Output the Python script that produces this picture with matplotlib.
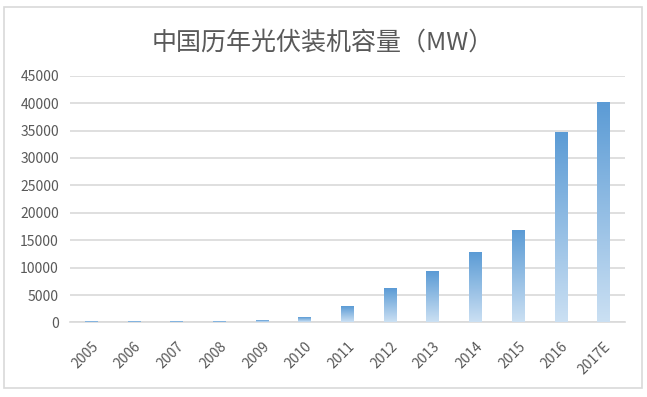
import numpy as np
import matplotlib
matplotlib.use("Agg")
import matplotlib.pyplot as plt
from matplotlib.colors import LinearSegmentedColormap
from matplotlib.patches import Rectangle

# ── data ──────────────────────────────────────────────────────────
years = ["2005", "2006", "2007", "2008", "2009", "2010", "2011",
         "2012", "2013", "2014", "2015", "2016", "2017E"]
capacity_mw = [5, 5, 10, 20, 300, 750, 2800,
               6100, 9150, 12700, 16600, 34550, 40000]
y_ticks = [0, 5000, 10000, 15000, 20000, 25000, 30000, 35000, 40000, 45000]
title = "中国历年光伏装机容量（MW）"

plt.rcParams["font.family"] = ["Noto Sans CJK SC", "DejaVu Sans"]
text_grey = "#595959"
grid_grey = "#d9d9d9"

fig = plt.figure(figsize=(6.47, 3.97), dpi=100)
ax = fig.add_axes([0.1082, 0.1877, 0.8578, 0.6216])

# outer chart frame
fig.patches.append(Rectangle((0.0065, 0.022), 0.986, 0.96, transform=fig.transFigure,
                             fill=False, edgecolor=grid_grey, lw=1.2))

x = np.arange(len(years))
bars = ax.bar(x, capacity_mw, width=0.3, color="none", edgecolor="none", zorder=3)

# vertical gradient fill, dark at top -> light at bottom
cmap = LinearSegmentedColormap.from_list("blue_grad", ["#cbe0f3", "#5b9bd5"])
grad = np.linspace(0, 1, 256).reshape(-1, 1)
for b in bars:
    x0, w, h = b.get_x(), b.get_width(), b.get_height()
    ax.imshow(grad, cmap=cmap, origin="lower", aspect="auto",
              extent=[x0, x0 + w, 0, h], zorder=3)

ax.set_xlim(-0.5, len(years) - 0.5)
ax.set_ylim(0, 45000)
ax.set_yticks(y_ticks)
ax.set_yticklabels([str(v) for v in y_ticks])
ax.set_xticks(x)
ax.set_xticklabels(years, rotation=45, ha="right", va="top", rotation_mode="anchor")

ax.grid(True, axis="y", color=grid_grey, lw=1.2, zorder=0)
ax.set_axisbelow(True)
for s in ["top", "right", "left"]:
    ax.spines[s].set_visible(False)
ax.spines["bottom"].set_color(grid_grey)
ax.spines["bottom"].set_linewidth(1.2)
ax.tick_params(axis="both", length=0, labelsize=10, colors=text_grey)
ax.tick_params(axis="y", pad=8)
ax.tick_params(axis="x", pad=12)

fig.text(0.499, 0.892, title, ha="center", va="center", fontsize=18,
         color=text_grey)

fig.savefig("out.png", dpi=100)
